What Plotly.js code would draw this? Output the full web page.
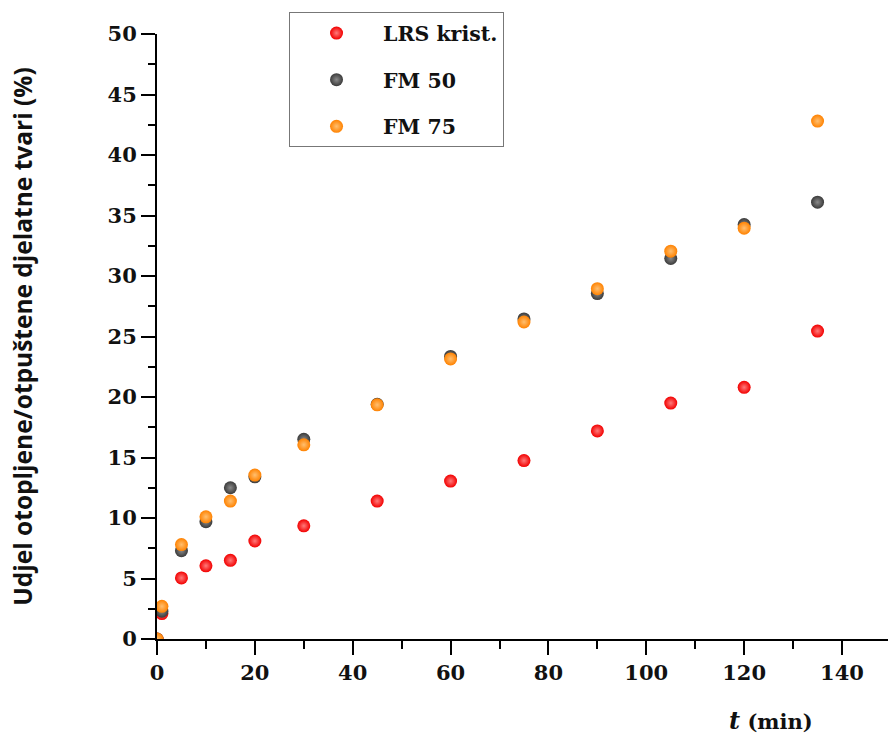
<!DOCTYPE html>
<html>
<head>
<meta charset="utf-8">
<script src="https://cdn.plot.ly/plotly-3.0.1.min.js"></script>
<style>html,body{margin:0;padding:0;background:#fff;}#chart{width:888px;height:737px;}</style>
</head>
<body>
<div id="chart"></div>
<script>
// time points (min)
const tMin = [0, 1, 5, 10, 15, 20, 30, 45, 60, 75, 90, 105, 120, 135];
// Udjel otopljene/otpuštene djelatne tvari (%)
const lrsKrist = [0, 2.1, 5.05, 6.05, 6.5, 8.1, 9.35, 11.4, 13.05, 14.75, 17.2, 19.5, 20.8, 25.45];
const fm50     = [0, 2.3, 7.3, 9.7, 12.5, 13.4, 16.5, 19.4, 23.35, 26.45, 28.55, 31.45, 34.25, 36.1];
const fm75     = [0, 2.7, 7.8, 10.1, 11.4, 13.55, 16.05, 19.35, 23.15, 26.2, 28.95, 32.05, 33.95, 42.8];
const seriesNames = ["LRS krist.", "FM 50", "FM 75"];
const xTitle = "<span style='font-size:24px'><i>t</i></span> (min)";
const yTitle = "Udjel otopljene/otpuštene djelatne tvari (%)";

const colors = ["#f20000", "#3a3a3a", "#ff8200"];
const highlights = ["#ff7a7a", "#8a8a8a", "#ffbf70"];
const serif = "DejaVu Serif, Liberation Serif, serif";

const seriesData = [lrsKrist, fm50, fm75];
const traces = seriesData.map((ys, i) => ({
  type: "scatter",
  mode: "markers",
  x: tMin,
  y: ys,
  name: seriesNames[i],
  legendgroup: "g" + i,
  cliponaxis: true,
  marker: {
    size: 13,
    color: colors[i],
    line: {width: 0},
    gradient: {type: "radial", color: highlights[i]}
  }
}));

const tickFont = {family: serif, size: 21, color: "#111", weight: "bold"};

const layout = {
  width: 888,
  height: 737,
  margin: {l: 157, r: 0, t: 34, b: 98},
  paper_bgcolor: "#fff",
  plot_bgcolor: "#fff",
  showlegend: true,
  legend: {
    x: 0.1806, xanchor: "left",
    y: 1.036, yanchor: "top",
    bgcolor: "#fff",
    bordercolor: "#777",
    borderwidth: 1,
    tracegroupgap: 17,
    itemwidth: 83,
    font: {family: serif, size: 20.5, color: "#111", weight: "bold"}
  },
  xaxis: {
    range: [0, 149.4],
    showgrid: false, zeroline: false,
    showline: true, linecolor: "#000", linewidth: 2,
    ticks: "outside", ticklen: 14, tickwidth: 2, tickcolor: "#000",
    dtick: 20, tick0: 0,
    minor: {dtick: 10, ticks: "outside", ticklen: 8, tickwidth: 2, tickcolor: "#000", showgrid: false},
    tickfont: tickFont
  },
  yaxis: {
    range: [0, 50],
    showgrid: false, zeroline: false,
    showline: true, linecolor: "#000", linewidth: 2,
    ticks: "outside", ticklen: 14, tickwidth: 2, tickcolor: "#000",
    dtick: 5, tick0: 0,
    minor: {dtick: 2.5, ticks: "outside", ticklen: 7, tickwidth: 2, tickcolor: "#000", showgrid: false},
    tickfont: tickFont,
    title: {text: yTitle, standoff: 68, font: {family: "Open Sans, Lato, sans-serif", size: 24.5, color: "#111", weight: "bold"}}
  },
  xaxis2: {
    overlaying: "x", side: "top", anchor: "y", matches: "x",
    range: [0, 149.4],
    showgrid: false, zeroline: false,
    showline: true, linecolor: "#000", linewidth: 2,
    ticks: "inside", ticklen: 11, tickwidth: 2, tickcolor: "#000",
    dtick: 20, tick0: 0,
    minor: {dtick: 10, ticks: "inside", ticklen: 7, tickwidth: 2, tickcolor: "#000", showgrid: false},
    showticklabels: false
  },
  yaxis2: {
    overlaying: "y", side: "right", anchor: "x", matches: "y",
    range: [0, 50],
    showgrid: false, zeroline: false,
    showline: false,
    ticks: "inside", ticklen: 11, tickwidth: 2, tickcolor: "#000",
    dtick: 5, tick0: 0,
    minor: {dtick: 2.5, ticks: "inside", ticklen: 6, tickwidth: 2, tickcolor: "#000", showgrid: false},
    showticklabels: false
  },
  annotations: [{
    text: xTitle,
    xref: "paper", yref: "paper",
    x: 0.84, y: -0.135,
    xanchor: "center", yanchor: "middle",
    showarrow: false,
    font: {family: serif, size: 21, color: "#111", weight: "bold"}
  }]
};

Plotly.newPlot("chart", traces, layout, {staticPlot: true, displayModeBar: false});
</script>
</body>
</html>
